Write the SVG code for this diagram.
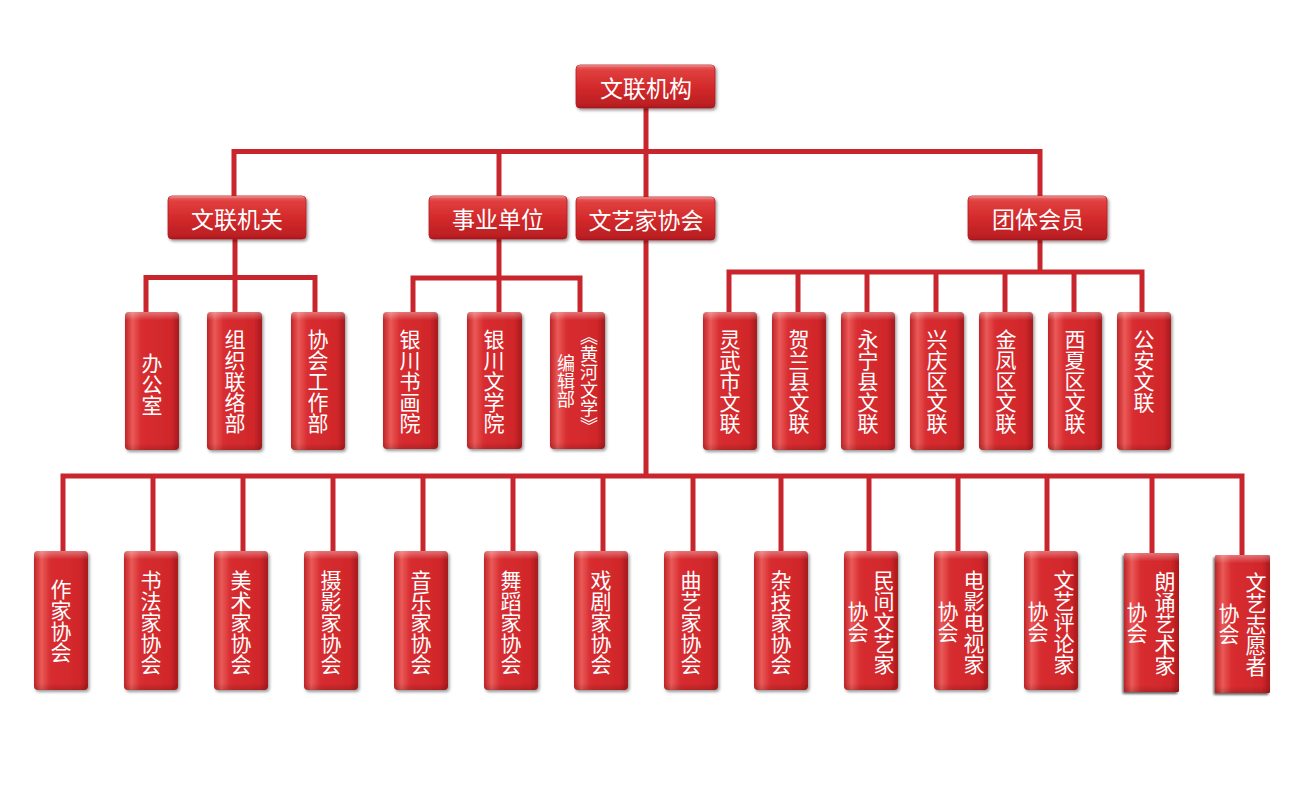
<svg xmlns="http://www.w3.org/2000/svg" width="1300" height="787" viewBox="0 0 1300 787">
<defs>
<linearGradient id="gh" x1="0" y1="0" x2="0" y2="1">
<stop offset="0" stop-color="#ec6a66"/>
<stop offset="0.12" stop-color="#e0403f"/>
<stop offset="0.5" stop-color="#d42a2c"/>
<stop offset="1" stop-color="#b71d21"/>
</linearGradient>
<linearGradient id="gv" x1="0" y1="0" x2="1" y2="0">
<stop offset="0" stop-color="#c02226"/>
<stop offset="0.14" stop-color="#ea5a58"/>
<stop offset="0.3" stop-color="#d82d30"/>
<stop offset="0.85" stop-color="#d0272b"/>
<stop offset="1" stop-color="#a8191d"/>
</linearGradient>
<linearGradient id="gt" x1="0" y1="0" x2="0" y2="1">
<stop offset="0" stop-color="#ffffff" stop-opacity="0.35"/>
<stop offset="0.06" stop-color="#ffffff" stop-opacity="0"/>
<stop offset="0.95" stop-color="#000000" stop-opacity="0"/>
<stop offset="1" stop-color="#000000" stop-opacity="0.15"/>
</linearGradient>
<filter id="sh" x="-20%" y="-20%" width="150%" height="150%">
<feDropShadow dx="1.5" dy="2" stdDeviation="1.5" flood-color="#000" flood-opacity="0.4"/>
</filter>
<filter id="sh2" x="-30%" y="-20%" width="160%" height="150%">
<feDropShadow dx="-1.5" dy="2" stdDeviation="1" flood-color="#000" flood-opacity="0.6"/>
</filter>
</defs>
<style>
.hb{fill:url(#gh);stroke:#b21e22;stroke-width:0.8;filter:url(#sh)}
.vb{fill:url(#gv);filter:url(#sh)}
.vb2{fill:url(#gv);filter:url(#sh2)}
.hi{fill:url(#gt);pointer-events:none}
.ht{font-family:"Noto Sans CJK SC","Noto Sans",sans-serif;font-size:23px;fill:#fff;text-anchor:middle;dominant-baseline:central}
.vt{font-family:"Noto Sans CJK SC","Noto Sans",sans-serif;font-size:21px;fill:#fff;text-anchor:middle;writing-mode:vertical-rl}
.vs{font-size:18px}
.ln{fill:none;stroke:#c8262c;stroke-width:5;stroke-linejoin:miter;stroke-linecap:butt}
</style>
<rect width="1300" height="787" fill="#fff"/>

<g id="connectors" class="ln">
<path class="ln" d="M646,108 V197"/>
<path class="ln" d="M234,196 V151.5 H1040 V196"/>
<path class="ln" d="M499,151.5 V196"/>
<path class="ln" d="M235,239 V312"/>
<path class="ln" d="M146,312 V277.5 H315 V312"/>
<path class="ln" d="M499,239 V312"/>
<path class="ln" d="M413,312 V278 H580 V312"/>
<path class="ln" d="M1040,240 V272"/>
<path class="ln" d="M729,312 V272 H1142 V312"/>
<path class="ln" d="M798,272 V312 M867,272 V312 M936,272 V312 M1005,272 V312 M1074,272 V312"/>
<path class="ln" d="M646,240 V476"/>
<path class="ln" d="M63,551 V476 H1242 V555"/>
<path class="ln" d="M153,476 V551 M243,476 V551 M333,476 V551 M423,476 V551 M513,476 V551 M603,476 V551 M693,476 V551 M781,476 V551 M869,476 V551 M958,476 V551 M1047,476 V551 M1152,476 V553"/>
</g>

<g id="n-root"><rect class="hb" x="576" y="65" width="139" height="43" rx="4"/><rect class="hi" x="576" y="65" width="139" height="43" rx="4"/><text class="ht" x="646" y="86.5">文联机构</text></g>
<g id="n-jiguan"><rect class="hb" x="168" y="196" width="138" height="43" rx="4"/><rect class="hi" x="168" y="196" width="138" height="43" rx="4"/><text class="ht" x="237" y="217.5">文联机关</text></g>
<g id="n-shiye"><rect class="hb" x="429" y="196" width="138" height="43" rx="4"/><rect class="hi" x="429" y="196" width="138" height="43" rx="4"/><text class="ht" x="498" y="217.5">事业单位</text></g>
<g id="n-xiehui"><rect class="hb" x="576" y="197" width="139" height="43" rx="4"/><rect class="hi" x="576" y="197" width="139" height="43" rx="4"/><text class="ht" x="646" y="218.5">文艺家协会</text></g>
<g id="n-tuanti"><rect class="hb" x="968" y="196" width="139" height="44" rx="4"/><rect class="hi" x="968" y="196" width="139" height="44" rx="4"/><text class="ht" x="1038" y="218">团体会员</text></g>

<g id="n-bgs"><rect class="vb" x="125" y="312" width="54" height="138" rx="4"/><rect class="hi" x="125" y="312" width="54" height="138" rx="4"/><text class="vt" x="152" y="384">办公室</text></g>
<g id="n-zzll"><rect class="vb" x="207" y="312" width="55" height="138" rx="4"/><rect class="hi" x="207" y="312" width="55" height="138" rx="4"/><text class="vt" x="235" y="381">组织联络部</text></g>
<g id="n-xhgz"><rect class="vb" x="291" y="312" width="54" height="138" rx="4"/><rect class="hi" x="291" y="312" width="54" height="138" rx="4"/><text class="vt" x="318" y="381">协会工作部</text></g>

<g id="n-shuhua"><rect class="vb" x="383" y="312" width="55" height="137" rx="4"/><rect class="hi" x="383" y="312" width="55" height="137" rx="4"/><text class="vt" x="410" y="381">银川书画院</text></g>
<g id="n-wenxue"><rect class="vb" x="467" y="312" width="55" height="137" rx="4"/><rect class="hi" x="467" y="312" width="55" height="137" rx="4"/><text class="vt" x="494" y="381">银川文学院</text></g>
<g id="n-huanghe"><rect class="vb" x="550" y="312" width="55" height="137" rx="4"/><rect class="hi" x="550" y="312" width="55" height="137" rx="4"/><text class="vt vs" x="589" y="381">《黄河文学》</text><text class="vt vs" x="566" y="381">编辑部</text></g>

<g id="n-lingwu"><rect class="vb" x="703" y="312" width="54" height="138" rx="4"/><rect class="hi" x="703" y="312" width="54" height="138" rx="4"/><text class="vt" x="730" y="381">灵武市文联</text></g>
<g id="n-helan"><rect class="vb" x="772" y="312" width="54" height="138" rx="4"/><rect class="hi" x="772" y="312" width="54" height="138" rx="4"/><text class="vt" x="799" y="381">贺兰县文联</text></g>
<g id="n-yongning"><rect class="vb" x="841" y="312" width="54" height="138" rx="4"/><rect class="hi" x="841" y="312" width="54" height="138" rx="4"/><text class="vt" x="868" y="381">永宁县文联</text></g>
<g id="n-xingqing"><rect class="vb" x="910" y="312" width="54" height="138" rx="4"/><rect class="hi" x="910" y="312" width="54" height="138" rx="4"/><text class="vt" x="937" y="381">兴庆区文联</text></g>
<g id="n-jinfeng"><rect class="vb" x="979" y="312" width="54" height="138" rx="4"/><rect class="hi" x="979" y="312" width="54" height="138" rx="4"/><text class="vt" x="1006" y="381">金凤区文联</text></g>
<g id="n-xixia"><rect class="vb" x="1048" y="312" width="54" height="138" rx="4"/><rect class="hi" x="1048" y="312" width="54" height="138" rx="4"/><text class="vt" x="1075" y="381">西夏区文联</text></g>
<g id="n-gongan"><rect class="vb" x="1117" y="312" width="54" height="138" rx="4"/><rect class="hi" x="1117" y="312" width="54" height="138" rx="4"/><text class="vt" x="1144" y="371">公安文联</text></g>

<g id="n-zuojia"><rect class="vb" x="34" y="551" width="54" height="139" rx="4"/><rect class="hi" x="34" y="551" width="54" height="139" rx="4"/><text class="vt" x="61" y="621">作家协会</text></g>
<g id="n-shufa"><rect class="vb" x="124" y="551" width="54" height="139" rx="4"/><rect class="hi" x="124" y="551" width="54" height="139" rx="4"/><text class="vt" x="151" y="622">书法家协会</text></g>
<g id="n-meishu"><rect class="vb" x="214" y="551" width="54" height="139" rx="4"/><rect class="hi" x="214" y="551" width="54" height="139" rx="4"/><text class="vt" x="241" y="622">美术家协会</text></g>
<g id="n-sheying"><rect class="vb" x="304" y="551" width="54" height="139" rx="4"/><rect class="hi" x="304" y="551" width="54" height="139" rx="4"/><text class="vt" x="331" y="622">摄影家协会</text></g>
<g id="n-yinyue"><rect class="vb" x="394" y="551" width="54" height="139" rx="4"/><rect class="hi" x="394" y="551" width="54" height="139" rx="4"/><text class="vt" x="421" y="622">音乐家协会</text></g>
<g id="n-wudao"><rect class="vb" x="484" y="551" width="54" height="139" rx="4"/><rect class="hi" x="484" y="551" width="54" height="139" rx="4"/><text class="vt" x="511" y="622">舞蹈家协会</text></g>
<g id="n-xiju"><rect class="vb" x="574" y="551" width="54" height="139" rx="4"/><rect class="hi" x="574" y="551" width="54" height="139" rx="4"/><text class="vt" x="601" y="622">戏剧家协会</text></g>
<g id="n-quyi"><rect class="vb" x="664" y="551" width="54" height="139" rx="4"/><rect class="hi" x="664" y="551" width="54" height="139" rx="4"/><text class="vt" x="691" y="622">曲艺家协会</text></g>
<g id="n-zaji"><rect class="vb" x="754" y="551" width="54" height="139" rx="4"/><rect class="hi" x="754" y="551" width="54" height="139" rx="4"/><text class="vt" x="781" y="622">杂技家协会</text></g>
<g id="n-minjian"><rect class="vb" x="844" y="551" width="54" height="139" rx="4"/><rect class="hi" x="844" y="551" width="54" height="139" rx="4"/><text class="vt" x="884" y="622">民间文艺家</text><text class="vt" x="858" y="622">协会</text></g>
<g id="n-dianying"><rect class="vb" x="934" y="551" width="54" height="139" rx="4"/><rect class="hi" x="934" y="551" width="54" height="139" rx="4"/><text class="vt" x="974" y="622">电影电视家</text><text class="vt" x="948" y="622">协会</text></g>
<g id="n-pinglun"><rect class="vb" x="1024" y="551" width="54" height="139" rx="4"/><rect class="hi" x="1024" y="551" width="54" height="139" rx="4"/><text class="vt" x="1064" y="622">文艺评论家</text><text class="vt" x="1038" y="622">协会</text></g>
<g id="n-langsong"><rect class="vb2" x="1124" y="553" width="55" height="139" rx="1.5"/><rect class="hi" x="1124" y="553" width="55" height="139" rx="1.5"/><text class="vt" x="1165" y="623">朗诵艺术家</text><text class="vt" x="1137" y="623">协会</text></g>
<g id="n-zhiyuan"><rect class="vb2" x="1215" y="555" width="55" height="138" rx="1.5"/><rect class="hi" x="1215" y="555" width="55" height="138" rx="1.5"/><text class="vt" x="1256" y="624">文艺志愿者</text><text class="vt" x="1229" y="624">协会</text></g>
</svg>
